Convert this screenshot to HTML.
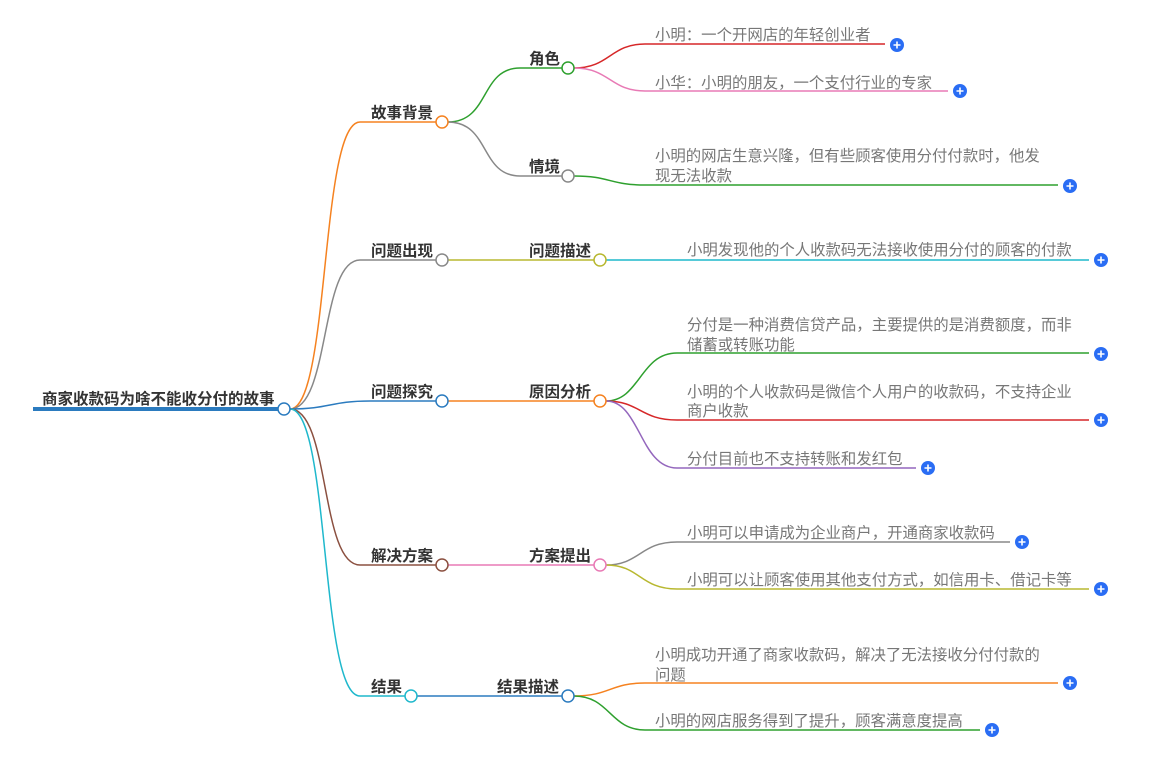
<!DOCTYPE html>
<html><head><meta charset="utf-8"><style>
body{margin:0;background:#fff}
svg text{font-family:"Liberation Sans","Noto Sans CJK SC",sans-serif}
.n{font-size:15.5px;fill:#333;font-weight:bold}
.r{font-size:15.5px;fill:#333;font-weight:bold}
.l{font-size:15.4px;fill:#777}
</style></head><body>
<svg width="1169" height="756" viewBox="0 0 1169 756" xmlns="http://www.w3.org/2000/svg" fill="none" stroke-width="1.5">
<line x1="33" y1="409" x2="278" y2="409" stroke="#2b7bbf" stroke-width="4"/>
<text x="42" y="404" class="r" stroke="none">商家收款码为啥不能收分付的故事</text>
<path d="M290 409 C330 409 320 122 360 122 L436 122" stroke="#f58220"/>
<path d="M290 409 C330 409 320 260 360 260 L436 260" stroke="#888"/>
<path d="M290 409 C330 409 330 401 370 401 L436 401" stroke="#2b7bbf"/>
<path d="M290 409 C330 409 320 565 360 565 L436 565" stroke="#8b5040"/>
<path d="M290 409 C330 409 320 696 360 696 L405 696" stroke="#1fb8cc"/>
<path d="M448 122 C490 122 480 68 520 68 L562 68" stroke="#2ea02e"/>
<path d="M448 122 C490 122 480 176 520 176 L562 176" stroke="#888"/>
<path d="M448 260 L594 260" stroke="#b8b830"/>
<path d="M448 401 L594 401" stroke="#f58220"/>
<path d="M448 565 L594 565" stroke="#e87ab5"/>
<path d="M417 696 L562 696" stroke="#2b7bbf"/>
<path d="M574 68 C610 68 610 44 645 44 L885 44" stroke="#d62728"/>
<path d="M574 68 C610 68 610 91 645 91 L948 91" stroke="#e87ab5"/>
<path d="M574 176 C610 176 610 185 645 185 L1058 185" stroke="#2ea02e"/>
<path d="M606 260 L1089 260" stroke="#1fb8cc"/>
<path d="M606 401 C640 401 640 353 677 353 L1089 353" stroke="#2ea02e"/>
<path d="M606 401 C640 401 640 420 677 420 L1089 420" stroke="#d62728"/>
<path d="M606 401 C640 401 640 468 677 468 L916 468" stroke="#9467bd"/>
<path d="M606 565 C640 565 640 542 677 542 L1010 542" stroke="#888"/>
<path d="M606 565 C640 565 640 589 677 589 L1089 589" stroke="#b8b830"/>
<path d="M574 696 C610 696 610 683 645 683 L1058 683" stroke="#f58220"/>
<path d="M574 696 C610 696 610 730 645 730 L980 730" stroke="#2ea02e"/>
<g fill="#fff" stroke-width="1.5">
<circle cx="284" cy="409" r="6" stroke="#2b7bbf"/>
<circle cx="442" cy="122" r="6" stroke="#f58220"/>
<circle cx="442" cy="260" r="6" stroke="#888"/>
<circle cx="442" cy="401" r="6" stroke="#2b7bbf"/>
<circle cx="442" cy="565" r="6" stroke="#8b5040"/>
<circle cx="411" cy="696" r="6" stroke="#1fb8cc"/>
<circle cx="568" cy="68" r="6" stroke="#2ea02e"/>
<circle cx="568" cy="176" r="6" stroke="#888"/>
<circle cx="600" cy="260" r="6" stroke="#b8b830"/>
<circle cx="600" cy="401" r="6" stroke="#f58220"/>
<circle cx="600" cy="565" r="6" stroke="#e87ab5"/>
<circle cx="568" cy="696" r="6" stroke="#2b7bbf"/>
</g>
<g stroke="none">
<text x="371" y="118" class="n">故事背景</text>
<text x="371" y="256" class="n">问题出现</text>
<text x="371" y="397" class="n">问题探究</text>
<text x="371" y="561" class="n">解决方案</text>
<text x="371" y="692" class="n">结果</text>
<text x="529" y="64" class="n">角色</text>
<text x="529" y="172" class="n">情境</text>
<text x="529" y="256" class="n">问题描述</text>
<text x="529" y="397" class="n">原因分析</text>
<text x="529" y="561" class="n">方案提出</text>
<text x="497" y="692" class="n">结果描述</text>
<text x="655" y="40" class="l">小明：一个开网店的年轻创业者</text>
<text x="655" y="88" class="l">小华：小明的朋友，一个支付行业的专家</text>
<text x="655" y="161" class="l">小明的网店生意兴隆，但有些顾客使用分付付款时，他发</text>
<text x="655" y="181" class="l">现无法收款</text>
<text x="687" y="255" class="l">小明发现他的个人收款码无法接收使用分付的顾客的付款</text>
<text x="687" y="330" class="l">分付是一种消费信贷产品，主要提供的是消费额度，而非</text>
<text x="687" y="350" class="l">储蓄或转账功能</text>
<text x="687" y="397" class="l">小明的个人收款码是微信个人用户的收款码，不支持企业</text>
<text x="687" y="416" class="l">商户收款</text>
<text x="687" y="464" class="l">分付目前也不支持转账和发红包</text>
<text x="687" y="538" class="l">小明可以申请成为企业商户，开通商家收款码</text>
<text x="687" y="585" class="l">小明可以让顾客使用其他支付方式，如信用卡、借记卡等</text>
<text x="655" y="660" class="l">小明成功开通了商家收款码，解决了无法接收分付付款的</text>
<text x="655" y="680" class="l">问题</text>
<text x="655" y="726" class="l">小明的网店服务得到了提升，顾客满意度提高</text>
</g>
<g>
<g transform="translate(897,45)"><circle r="7" fill="#2a6df4"/><path d="M-3.5 0H3.5M0 -3.5V3.5" stroke="#fff" stroke-width="1.6"/></g>
<g transform="translate(960,91)"><circle r="7" fill="#2a6df4"/><path d="M-3.5 0H3.5M0 -3.5V3.5" stroke="#fff" stroke-width="1.6"/></g>
<g transform="translate(1070,186)"><circle r="7" fill="#2a6df4"/><path d="M-3.5 0H3.5M0 -3.5V3.5" stroke="#fff" stroke-width="1.6"/></g>
<g transform="translate(1101,260)"><circle r="7" fill="#2a6df4"/><path d="M-3.5 0H3.5M0 -3.5V3.5" stroke="#fff" stroke-width="1.6"/></g>
<g transform="translate(1101,354)"><circle r="7" fill="#2a6df4"/><path d="M-3.5 0H3.5M0 -3.5V3.5" stroke="#fff" stroke-width="1.6"/></g>
<g transform="translate(1101,420)"><circle r="7" fill="#2a6df4"/><path d="M-3.5 0H3.5M0 -3.5V3.5" stroke="#fff" stroke-width="1.6"/></g>
<g transform="translate(928,468)"><circle r="7" fill="#2a6df4"/><path d="M-3.5 0H3.5M0 -3.5V3.5" stroke="#fff" stroke-width="1.6"/></g>
<g transform="translate(1022,542)"><circle r="7" fill="#2a6df4"/><path d="M-3.5 0H3.5M0 -3.5V3.5" stroke="#fff" stroke-width="1.6"/></g>
<g transform="translate(1101,589)"><circle r="7" fill="#2a6df4"/><path d="M-3.5 0H3.5M0 -3.5V3.5" stroke="#fff" stroke-width="1.6"/></g>
<g transform="translate(1070,683)"><circle r="7" fill="#2a6df4"/><path d="M-3.5 0H3.5M0 -3.5V3.5" stroke="#fff" stroke-width="1.6"/></g>
<g transform="translate(992,730)"><circle r="7" fill="#2a6df4"/><path d="M-3.5 0H3.5M0 -3.5V3.5" stroke="#fff" stroke-width="1.6"/></g>
</g>
</svg>
</body></html>
